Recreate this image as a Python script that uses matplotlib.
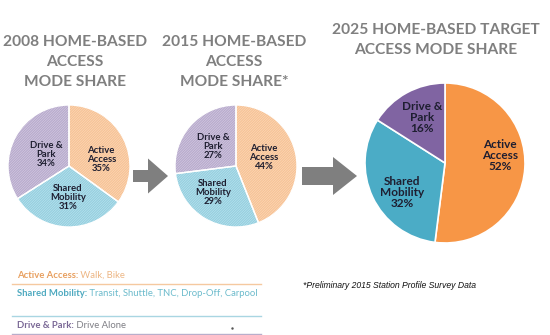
import numpy as np
import matplotlib
matplotlib.use("Agg")
import matplotlib.pyplot as plt
from matplotlib.patches import FancyArrow

W, H = 550, 335

categories = ["Active\nAccess", "Shared\nMobility", "Drive &\nPark"]
share_2008 = [35, 31, 34]
share_2015 = [44, 29, 27]
share_2025 = [52, 32, 16]

colors = ["#F79646", "#4BACC6", "#8064A2"]
tints = ["#FDE8D6", "#DAF0F6", "#E9E4F0"]
hatch_cols = ["#F5B57E", "#7CC4D8", "#A696C0"]

titles = ["2008 HOME-BASED\nACCESS\nMODE SHARE",
          "2015 HOME-BASED\nACCESS\nMODE SHARE*",
          "2025 HOME-BASED TARGET\nACCESS MODE SHARE"]

legend_keys = ["Active Access:", "Shared Mobility:", "Drive & Park:"]
legend_vals = [" Walk, Bike", " Transit, Shuttle, TNC, Drop-Off, Carpool", " Drive Alone"]
footnote = "*Preliminary 2015 Station Profile Survey Data"

plt.rcParams["font.family"] = ["Lato", "DejaVu Sans"]
plt.rcParams["hatch.linewidth"] = 0.5

fig = plt.figure(figsize=(W / 100, H / 100), dpi=100)
ax = fig.add_axes([0, 0, 1, 1])


def Y(p):
    # pixel row -> data y
    return H - p


def draw_pie(vals, cx, cy, r, hatched, fs, place):
    if hatched:
        wedges, _ = ax.pie(vals, center=(cx, Y(cy)), radius=r, startangle=90,
                           counterclock=False, colors=tints,
                           wedgeprops=dict(linewidth=0))
        for w, c in zip(wedges, hatch_cols):
            w.set_hatch("/" * 20)
            w.set_edgecolor(c)
        ax.pie(vals, center=(cx, Y(cy)), radius=r, startangle=90,
               counterclock=False, colors=["none"] * 3,
               wedgeprops=dict(linewidth=1.0, edgecolor="white"))
    else:
        wedges, _ = ax.pie(vals, center=(cx, Y(cy)), radius=r, startangle=90,
                           counterclock=False, colors=colors,
                           wedgeprops=dict(linewidth=1.2, edgecolor="white"))
    # place = (fraction of radius, angle shift in degrees) per label
    for w, lab, v, (d, da) in zip(wedges, categories, vals, place):
        a = np.deg2rad((w.theta1 + w.theta2) / 2 + da)
        ax.text(cx + d * r * np.cos(a), Y(cy) + d * r * np.sin(a),
                "%s\n%d%%" % (lab, v), ha="center", va="center",
                fontsize=fs, fontweight="bold", color="#1E1E30",
                linespacing=1.0)


draw_pie(share_2008, 69, 166, 61, True, 6.8,
         [(0.54, -15), (0.52, 0), (0.42, 2)])
draw_pie(share_2015, 236, 166, 61, True, 6.8,
         [(0.48, 7), (0.58, -10), (0.49, 1)])
draw_pie(share_2025, 445, 163, 80, False, 8.5,
         [(0.69, 11), (0.65, 9), (0.64, -2)])

# arrows
ax.add_patch(FancyArrow(133, Y(176), 35, 0, width=12, head_width=35,
                        head_length=20, length_includes_head=True,
                        color="#7F7F7F", linewidth=0))
ax.add_patch(FancyArrow(302, Y(176), 55, 0, width=18, head_width=38,
                        head_length=24, length_includes_head=True,
                        color="#7F7F7F", linewidth=0))

# titles
for t, x, y in zip(titles, [75, 234, 436], [62, 62, 40]):
    ax.text(x, Y(y), t, ha="center", va="center", fontsize=11.2,
            fontweight="bold", color="#7F7F7F", linespacing=1.5)

# legend block
key_colors = ["#E8A060", "#4FAAC0", "#7A6896"]
val_colors = ["#EDB684", "#6CBBCC", "#7F7F85"]
for k, v, kc, vc, y in zip(legend_keys, legend_vals, key_colors, val_colors,
                           [275, 294, 325]):
    t1 = ax.text(17, Y(y), k, ha="left", va="center", fontsize=6.8,
                 fontweight="bold", color=kc)
    ax.annotate(v, xy=(1, 0.5), xycoords=t1, ha="left", va="center",
                fontsize=6.8, color=vc)
for y, c in zip([284, 316, 334], ["#F5C9A0", "#A9D6E2", "#B8AECB"]):
    ax.plot([12, 261], [Y(y), Y(y)], color=c, linewidth=1)
ax.plot([232], [Y(328)], marker=".", markersize=1.5, color="#555555")

ax.text(303, Y(285), footnote, ha="left", va="center", fontsize=6.2,
        style="italic", family="Liberation Sans", color="#111111")

ax.set_xlim(0, W)
ax.set_ylim(0, H)
ax.set_aspect("auto")
ax.axis("off")

fig.savefig("out.png", dpi=100, facecolor="white")
